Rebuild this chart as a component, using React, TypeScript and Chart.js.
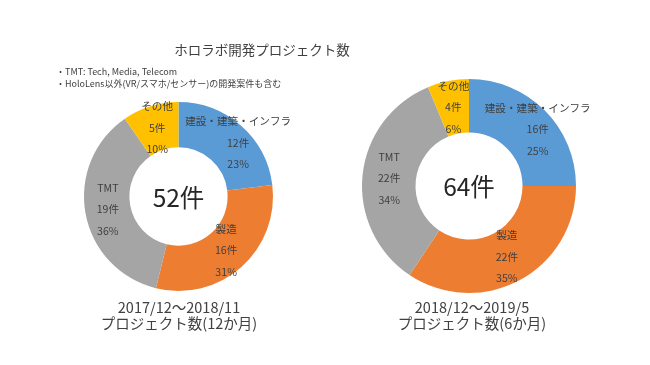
import React, { useEffect, useRef } from "react";
import { Chart, registerables } from "chart.js";

Chart.register(...registerables);

const categories = ["建設・建築・インフラ", "製造", "TMT", "その他"];
const colors = ["#5B9BD5", "#ED7D31", "#A5A5A5", "#FFC000"];
const countsA = [12, 16, 19, 5];
const pctA = ["23%", "31%", "36%", "10%"];
const countsB = [16, 22, 22, 4];
const pctB = ["25%", "35%", "34%", "6%"];
const captionA = ["2017/12～2018/11", "プロジェクト数(12か月)"];
const captionB = ["2018/12～2019/5", "プロジェクト数(6か月)"];
const titleText = "ホロラボ開発プロジェクト数";
const notes = ["・TMT: Tech, Media, Telecom", "・HoloLens以外(VR/スマホ/センサー)の開発案件も含む"];

const FONT = "'Noto Sans CJK JP', 'Noto Sans', sans-serif";
const TEXT = "#404040";

const sliceLabels = {
  id: "sliceLabels",
  afterDatasetsDraw(chart: any, _args: any, opts: any) {
    const ctx = chart.ctx;
    const meta = chart.getDatasetMeta(0);
    const values = chart.data.datasets[0].data as number[];
    const labels = chart.data.labels as string[];
    ctx.save();
    ctx.fillStyle = TEXT;
    ctx.textAlign = "center";
    ctx.textBaseline = "middle";
    ctx.font = `10.6px ${FONT}`;
    let cx = 0, cy = 0;
    meta.data.forEach((arc: any, i: number) => {
      const p = arc.getProps(["startAngle", "endAngle", "innerRadius", "outerRadius", "x", "y"], true);
      cx = p.x; cy = p.y;
      const mid = (p.startAngle + p.endAngle) / 2;
      const r = (p.innerRadius + p.outerRadius) / 2;
      const px = p.x + Math.cos(mid) * r + (i === 0 ? opts.firstShift : 0);
      const py = p.y + Math.sin(mid) * r;
      const lines = [labels[i], `${values[i]}件`, opts.pct[i]];
      lines.forEach((t, k) => ctx.fillText(t, px, py + (k - 1) * 21.5));
    });
    const total = values.reduce((a, b) => a + b, 0);
    ctx.font = `24.5px ${FONT}`;
    ctx.fillStyle = "#262626";
    ctx.fillText(`${total}件`, cx, cy + 1);
    ctx.restore();
  },
};

function Donut({ values, pct, padding, cutout, firstShift }: any) {
  const ref = useRef<HTMLCanvasElement>(null);
  useEffect(() => {
    const chart = new Chart(ref.current!, {
      type: "doughnut",
      data: {
        labels: categories,
        datasets: [{ data: values, backgroundColor: colors, borderWidth: 0, hoverOffset: 0 }],
      },
      options: {
        responsive: false,
        animation: false,
        cutout,
        layout: { padding },
        plugins: {
          legend: { display: false },
          tooltip: { enabled: false },
          sliceLabels: { pct, firstShift },
        } as any,
      },
      plugins: [sliceLabels],
    });
    return () => chart.destroy();
  }, []);
  return (
    <canvas
      ref={ref}
      width={650}
      height={365}
      style={{ position: "absolute", left: 0, top: 0, width: 650, height: 365 }}
    />
  );
}

function Caption({ lines, x }: { lines: string[]; x: number }) {
  return (
    <div
      style={{
        position: "absolute",
        left: x - 150,
        width: 300,
        top: 299,
        textAlign: "center",
        fontSize: 14.5,
        lineHeight: "16px",
        color: TEXT,
        fontFamily: FONT,
      }}
    >
      {lines.map((l) => (
        <div key={l}>{l}</div>
      ))}
    </div>
  );
}

export default function App() {
  return (
    <div
      style={{
        position: "fixed",
        left: 0,
        top: 0,
        width: 650,
        height: 365,
        background: "#ffffff",
        overflow: "hidden",
      }}
    >
      <Donut
        values={countsA}
        pct={pctA}
        cutout="52%"
        firstShift={12}
        padding={{ left: 84, right: 377, top: 102, bottom: 74 }}
      />
      <Donut
        values={countsB}
        pct={pctB}
        cutout="50%"
        firstShift={12}
        padding={{ left: 362, right: 74, top: 79, bottom: 72 }}
      />
      <div
        style={{
          position: "absolute",
          left: 62,
          width: 400,
          top: 38,
          textAlign: "center",
          fontSize: 13.5,
          lineHeight: "22px",
          color: TEXT,
          fontFamily: FONT,
        }}
      >
        {titleText}
      </div>
      <div
        style={{
          position: "absolute",
          left: 56,
          top: 66,
          fontSize: 9,
          lineHeight: "11.6px",
          color: TEXT,
          fontFamily: FONT,
          whiteSpace: "nowrap",
        }}
      >
        {notes.map((n) => (
          <div key={n}>{n}</div>
        ))}
      </div>
      <Caption lines={captionA} x={179} />
      <Caption lines={captionB} x={472} />
    </div>
  );
}
